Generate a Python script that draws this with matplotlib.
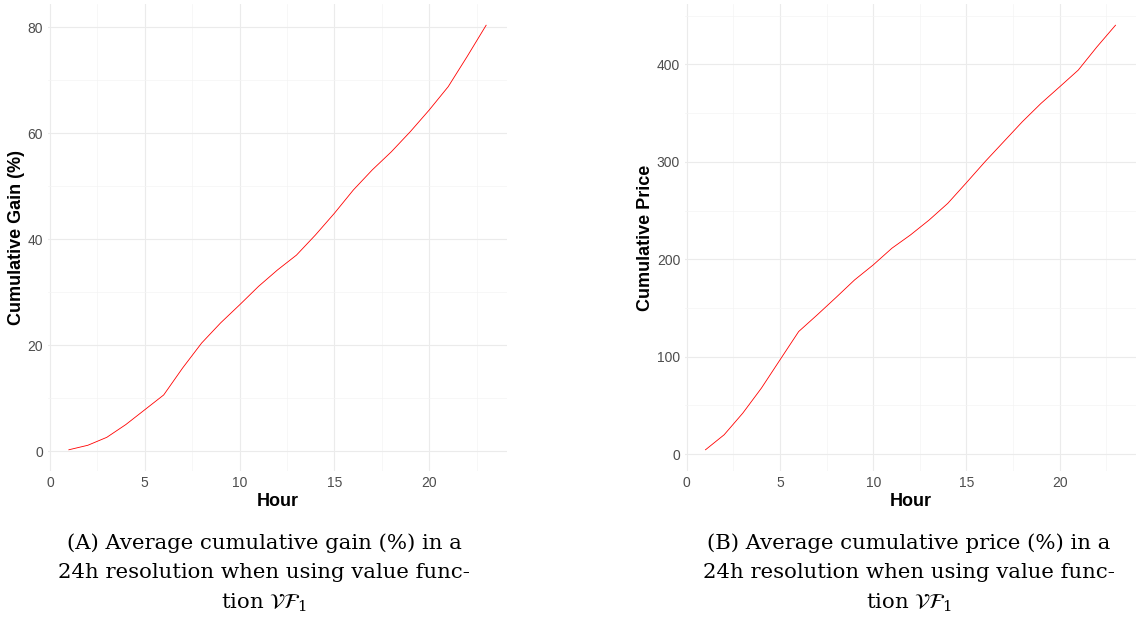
import numpy as np
import matplotlib.pyplot as plt
from matplotlib.ticker import MultipleLocator

hours = list(range(1, 24))
gain = [0.25, 1.1, 2.6, 5.0, 7.8, 10.6, 15.7, 20.4, 24.2, 27.6, 31.1, 34.2,
        37.0, 40.8, 44.9, 49.3, 53.1, 56.5, 60.3, 64.4, 68.8, 74.5, 80.4]
price = [4.4, 19.8, 42.0, 67.7, 96.8, 125.8, 143.0, 160.7, 178.8, 194.2, 211.3,
         225.0, 240.3, 257.4, 278.6, 300.2, 320.7, 341.2, 360.0, 377.0, 394.2,
         418.0, 440.3]

plt.rcParams['font.family'] = ['Liberation Sans', 'DejaVu Sans']

fig = plt.figure(figsize=(11.37, 6.19), dpi=100)
W, H = 1137, 619


def panel(left, right, top, bottom, y, ylabel, ymajor):
    ax = fig.add_axes([left / W, 1 - bottom / H, (right - left) / W, (bottom - top) / H])
    ax.plot(hours, y, color='red', linewidth=0.6)
    lo, hi = min(y), max(y)
    pad = 0.05 * (hi - lo)
    ax.set_ylim(lo - pad, hi + pad)
    ax.set_xlim(-0.1, 24.1)
    ax.xaxis.set_major_locator(MultipleLocator(5))
    ax.xaxis.set_minor_locator(MultipleLocator(2.5))
    ax.yaxis.set_major_locator(MultipleLocator(ymajor))
    ax.yaxis.set_minor_locator(MultipleLocator(ymajor / 2))
    ax.grid(which='major', color='#ebebeb', linewidth=0.8)
    ax.grid(which='minor', color='#f4f4f4', linewidth=0.5)
    ax.set_axisbelow(True)
    for s in ax.spines.values():
        s.set_visible(False)
    ax.tick_params(which='both', length=0, labelsize=10, labelcolor='#4d4d4d', pad=3.5)
    ax.set_xlabel('Hour', fontsize=13, fontweight='bold', labelpad=2)
    ax.set_ylabel(ylabel, fontsize=13, fontweight='bold', labelpad=2)
    return ax


panel(48, 507, 4, 471, gain, 'Cumulative Gain (%)', 20)
panel(685, 1136, 4, 471, price, 'Cumulative Price', 100)

cap_font = ['DejaVu Serif']
plt.rcParams['mathtext.fontset'] = 'dejavuserif'
captions = [
    ('(A) Average cumulative gain (%) in a', 264),
    ('(B) Average cumulative price (%) in a', 909),
]
for first, cx in captions:
    fig.text(cx / W, 1 - 543 / H, first, ha='center', va='center',
             fontsize=15.3, family=cap_font)
    fig.text(cx / W, 1 - 573 / H, '24h resolution when using value func-',
             ha='center', va='center', fontsize=15.3, family=cap_font)
    fig.text(cx / W, 1 - 603 / H, r'tion $\mathcal{VF}_1$',
             ha='center', va='center', fontsize=15.3, family=cap_font)

fig.savefig('out.png', dpi=100)
